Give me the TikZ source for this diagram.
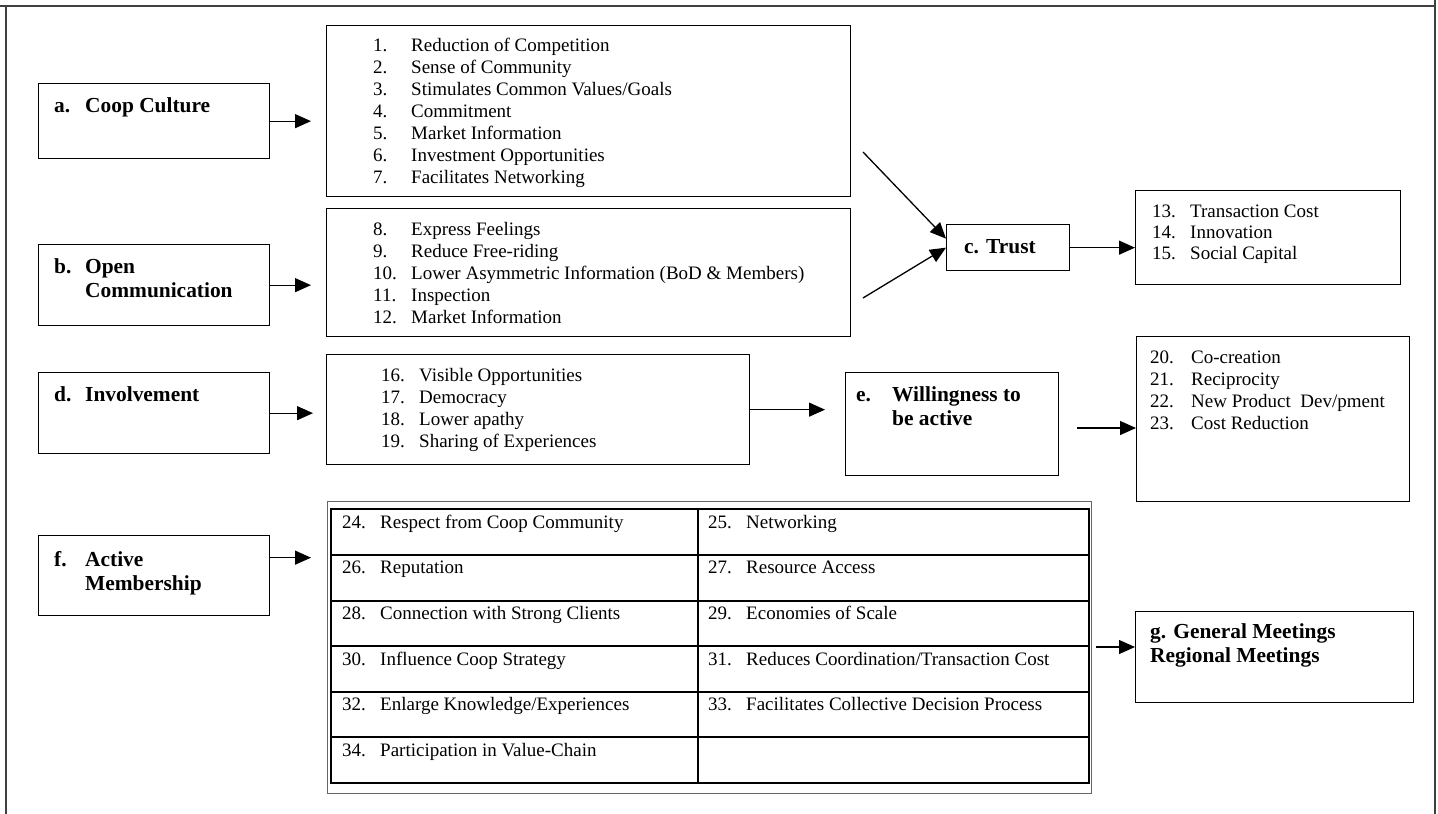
\documentclass[tikz,border=0pt]{standalone}
\usepackage{fontspec}
\setmainfont{Liberation Serif}
\usetikzlibrary{arrows.meta}

\tikzset{
  box/.style={draw, line width=1.3pt, anchor=north west, inner sep=0pt},
  head/.style={anchor=base west, inner sep=0pt, align=left, font=\fontsize{21.4}{24}\selectfont\bfseries},
  items/.style={anchor=base west, inner sep=0pt, align=left, font=\fontsize{19}{22}\selectfont},
  arr/.style={-{Triangle[length=16pt,width=14pt]}, line width=1.3pt},
  frame/.style={draw=black!75, line width=2pt},
}
\newcommand{\itm}[2]{\makebox[38pt][l]{#1}#2}

\begin{document}
\begin{tikzpicture}[x=1pt, y=-1pt]
  \useasboundingbox (0,0) rectangle (1438,814);
  % outer frame
  \draw[frame] (0,6) -- (1435,6);
  \draw[frame] (5.5,6) -- (5.5,814);
  \draw[frame] (1435,0) -- (1435,814);

  % left column (text nodes sit on the baseline of their last line)
  \node[box, minimum width=231, minimum height=75] (cult) at (38,83) {};
  \node[head] (cultlbl) at (54,112) {\makebox[31pt][l]{a.}Coop Culture};
  \node[box, minimum width=231, minimum height=81] (comm) at (38,244) {};
  \node[head] (commlbl) at (54,297) {\makebox[31pt][l]{b.}Open\\\hspace*{31pt}Communication};
  \node[box, minimum width=231, minimum height=81] (invol) at (38,372) {};
  \node[head] (invollbl) at (54,401) {\makebox[31pt][l]{d.}Involvement};
  \node[box, minimum width=231, minimum height=80] (memb) at (38,535) {};
  \node[head] (memblbl) at (54,590) {\makebox[31pt][l]{f.}Active\\\hspace*{31pt}Membership};

  % lists
  \node[box, minimum width=524, minimum height=171] (cultlist) at (326,25) {};
  \node[items] (cultitems) at (373,183) {\itm{1.}{Reduction of Competition}\\
    \itm{2.}{Sense of Community}\\ \itm{3.}{Stimulates Common Values/Goals}\\
    \itm{4.}{Commitment}\\ \itm{5.}{Market Information}\\
    \itm{6.}{Investment Opportunities}\\ \itm{7.}{Facilitates Networking}};
  \node[box, minimum width=524, minimum height=128] (commlist) at (326,208) {};
  \node[items] (commitems) at (373,323) {\itm{8.}{Express Feelings}\\
    \itm{9.}{Reduce Free-riding}\\ \itm{10.}{Lower Asymmetric Information (BoD \& Members)}\\
    \itm{11.}{Inspection}\\ \itm{12.}{Market Information}};
  \node[box, minimum width=423, minimum height=110] (invlist) at (326,354) {};
  \node[items] (invitems) at (381,447) {\itm{16.}{Visible Opportunities}\\
    \itm{17.}{Democracy}\\ \itm{18.}{Lower apathy}\\ \itm{19.}{Sharing of Experiences}};

  % trust
  \node[box, minimum width=123, minimum height=46] (trust) at (946,224) {};
  \node[head] (trustlbl) at (964,253) {c. Trust};
  \node[box, minimum width=265, minimum height=94] (trustlist) at (1135,190) {};
  \node[items, font=\fontsize{19}{21}\selectfont] (trustitems) at (1152,259)
    {\itm{13.}{Transaction Cost}\\ \itm{14.}{Innovation}\\ \itm{15.}{Social Capital}};

  % willingness
  \node[box, minimum width=213, minimum height=103] (will) at (845,372) {};
  \node[head] (willlbl) at (856,425) {\makebox[36pt][l]{e.}Willingness to\\\hspace*{36pt}be active};
  \node[box, minimum width=273, minimum height=165] (willlist) at (1136,336) {};
  \node[items] (willitems) at (1150,429) {\makebox[41pt][l]{20.}Co-creation\\
    \makebox[41pt][l]{21.}Reciprocity\\ \makebox[41pt][l]{22.}New Product\ \ Dev/pment\\
    \makebox[41pt][l]{23.}Cost Reduction};

  % membership table
  \node[box, line width=0.8pt, draw=black!60, minimum width=764, minimum height=292] (memtab) at (327,501) {};
  \draw[line width=2pt] (331,509) rectangle (1089,783);
  \foreach \y in {555,601,646,692,737}
    \draw[line width=2pt] (331,\y) -- (1089,\y);
  \draw[line width=2pt] (698,509) -- (698,783);
  \foreach \n/\t [count=\k from 0] in {24/{Respect from Coop Community}, 26/Reputation,
      28/{Connection with Strong Clients}, 30/{Influence Coop Strategy},
      32/{Enlarge Knowledge/Experiences}, 34/{Participation in Value-Chain}}
    \node[items] (lcell\k) at (342,528+45.67*\k) {\itm{\n.}{\t}};
  \foreach \n/\t [count=\k from 0] in {25/Networking, 27/{Resource Access},
      29/{Economies of Scale}, 31/{Reduces Coordination/Transaction Cost},
      33/{Facilitates Collective Decision Process}}
    \node[items] (rcell\k) at (708,528+45.67*\k) {\itm{\n.}{\t}};

  % meetings
  \node[box, minimum width=278, minimum height=91] (meet) at (1135,611) {};
  \node[head] (meetlbl) at (1150,662) {g. General Meetings\\Regional Meetings};

  % connectors
  \coordinate (tin1) at (863,152);
  \coordinate (tin2) at (863,298);
  \coordinate (wstart) at (1077,428);
  \coordinate (gstart) at (1096,647);
  \draw[arr, shorten >=15pt] (cult.east) -- (cult.east -| cultlist.west);
  \draw[arr, shorten >=15pt] (comm.east) -- (comm.east -| commlist.west);
  \draw[arr, shorten >=13pt] (invol.east) -- (invol.east -| invlist.west);
  \draw[arr, shorten >=16pt] ([yshift=18pt]memb.east) -- ([yshift=18pt]memb.east -| memtab.west);
  \draw[arr] (tin1) -- ([yshift=9pt]trust.west);
  \draw[arr] (tin2) -- (trust.west);
  \draw[arr] (trust.east) -- (trust.east -| trustlist.west);
  \draw[arr, shorten >=20pt] (invlist.east) -- (invlist.east -| will.west);
  \draw[arr] (wstart) -- (wstart -| willlist.west);
  \draw[arr] (gstart) -- (gstart -| meet.west);
\end{tikzpicture}
\end{document}
